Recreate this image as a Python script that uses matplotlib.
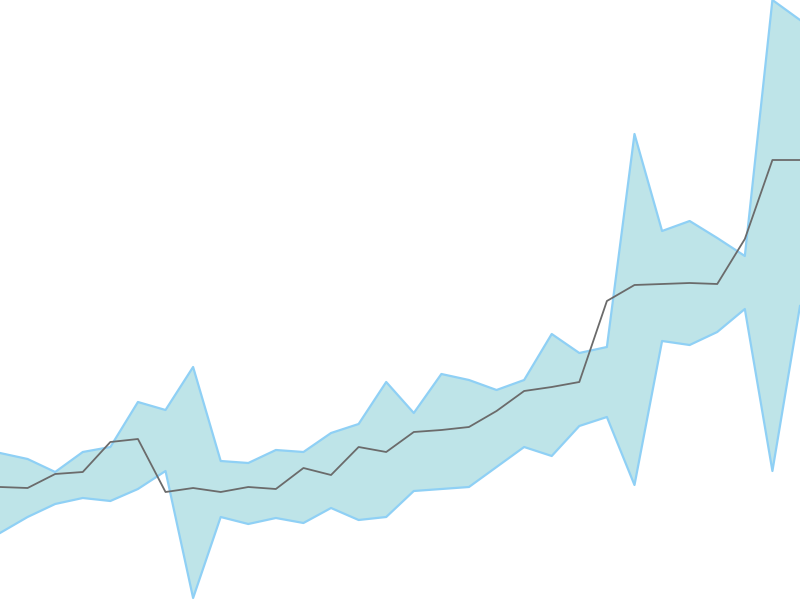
import numpy as np
import matplotlib
matplotlib.use("Agg")
import matplotlib.pyplot as plt

# valores (30 puntos)
idx = list(range(30))
media = [113, 112, 126, 128, 158, 161, 108, 112, 108, 113, 111, 132, 125, 153, 148,
         168, 170, 173, 189, 209, 213, 218, 299, 315, 316, 317, 316, 361, 440, 440]
superior = [147, 141, 128, 148, 153, 198, 190, 233, 139, 137, 150, 148, 167, 176, 218,
            187, 226, 220, 210, 220, 266, 247, 253, 466, 369, 379, 362, 344, 600, 580]
inferior = [67, 83, 96, 102, 99, 111, 129, 2, 83, 76, 82, 77, 92, 80, 83,
            109, 111, 113, 133, 153, 144, 174, 183, 115, 259, 255, 268, 291, 129, 294]

fig = plt.figure(figsize=(8, 6), dpi=100)
ax = fig.add_axes([0, 0, 1, 1])

# banda de confianza
ax.fill_between(idx, inferior, superior, color="#bee4e8", linewidth=0)
ax.plot(idx, superior, color="#8fd0f5", linewidth=1.6)
ax.plot(idx, inferior, color="#8fd0f5", linewidth=1.6)

# linea central
ax.plot(idx, media, color="#6b6b6b", linewidth=1.3)

ax.set_xlim(0, 29)
ax.set_ylim(0, max(superior))
ax.axis("off")

plt.savefig("out.png", dpi=100)
